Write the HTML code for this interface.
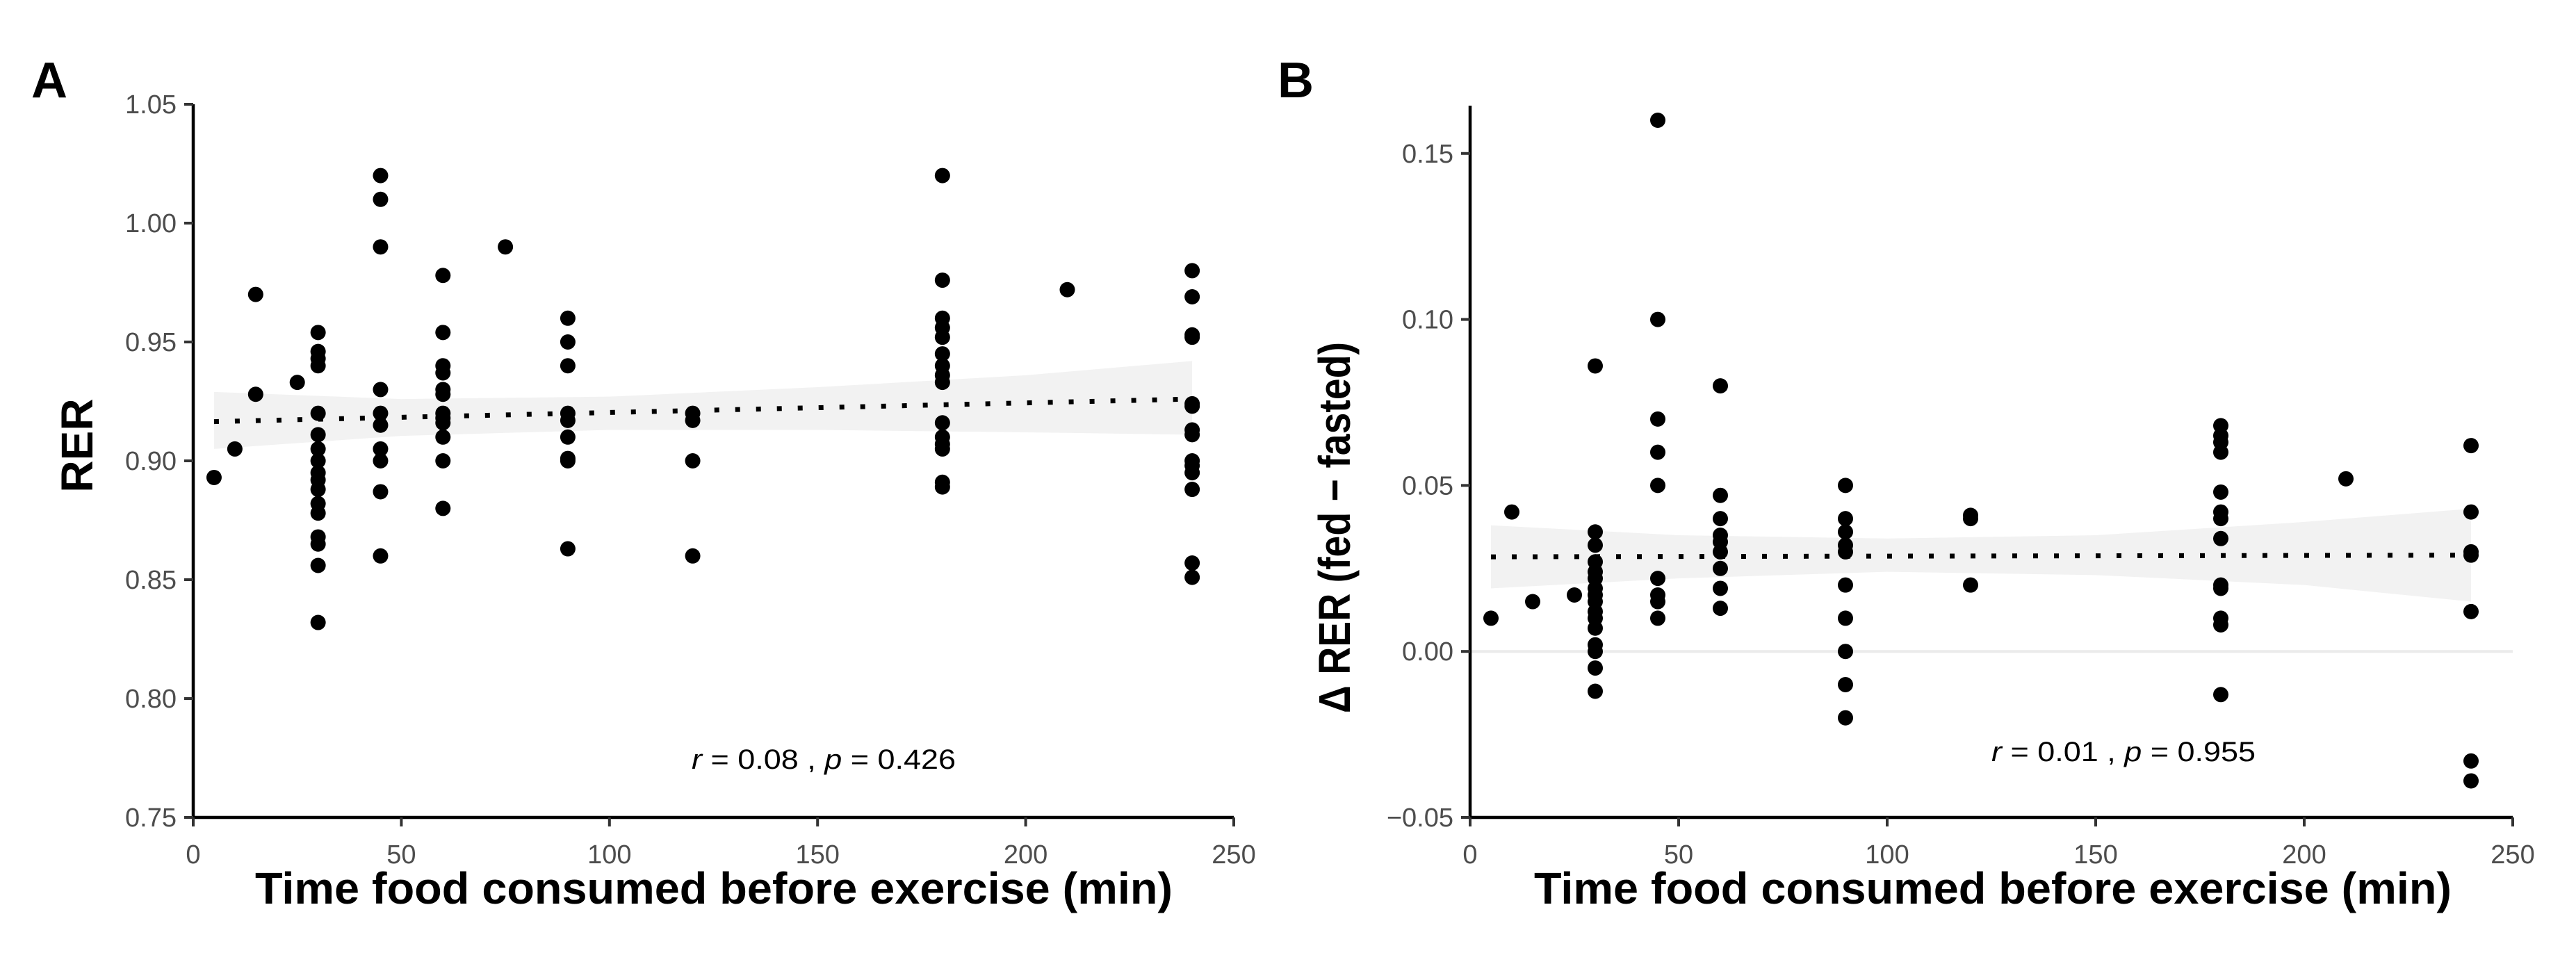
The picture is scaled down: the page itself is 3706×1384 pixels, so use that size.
<!DOCTYPE html>
<html><head><meta charset="utf-8"><style>
html,body{margin:0;padding:0;background:#fff;}
svg{display:block;}
text{font-family:"Liberation Sans",Arial,sans-serif;}
</style></head><body>
<svg id="chart" width="3706" height="1384" viewBox="0 0 3706 1384" xmlns="http://www.w3.org/2000/svg">
<rect width="3706" height="1384" fill="#fff"/>
<g id="pA"></g>
<g id="pB"></g>
</svg>
<script>
const xTicks = [0, 50, 100, 150, 200, 250];
const xTickLabels = ["0", "50", "100", "150", "200", "250"];
const aYTicks = [0.75, 0.80, 0.85, 0.90, 0.95, 1.00, 1.05];
const aYTickLabels = ["0.75", "0.80", "0.85", "0.90", "0.95", "1.00", "1.05"];
const bYTicks = [-0.05, 0.00, 0.05, 0.10, 0.15];
const bYTickLabels = ["\u22120.05", "0.00", "0.05", "0.10", "0.15"];

const aX = [5,10,15,15,25,
 30,30,30,30,30,30,30,30,30,30,30,30,30,30,30,30,30,
 45,45,45,45,45,45,45,45,45,45,
 60,60,60,60,60,60,60,60,60,60,60,60,
 75,
 90,90,90,90,90,90,90,90,90,
 120,120,120,120,
 180,180,180,180,180,180,180,180,180,180,180,180,180,180,180,
 210,
 240,240,240,240,240,240,240,240,240,240,240,240,240,240];
const aY = [0.893,0.905,0.970,0.928,0.933,
 0.954,0.946,0.943,0.940,0.920,0.911,0.905,0.900,0.895,0.892,0.888,0.882,0.878,0.868,0.865,0.856,0.832,
 1.020,1.010,0.990,0.930,0.920,0.915,0.905,0.900,0.887,0.860,
 0.978,0.954,0.940,0.937,0.930,0.928,0.920,0.918,0.916,0.910,0.900,0.880,
 0.990,
 0.960,0.950,0.940,0.920,0.917,0.910,0.901,0.900,0.863,
 0.920,0.917,0.900,0.860,
 1.020,0.976,0.960,0.956,0.952,0.945,0.940,0.936,0.933,0.916,0.910,0.907,0.905,0.891,0.889,
 0.972,
 0.980,0.969,0.953,0.952,0.924,0.923,0.913,0.911,0.900,0.898,0.895,0.888,0.857,0.851];
const aFitX = [5, 240];
const aFitY = [0.9165, 0.926];
const aBandX = [5, 50, 100, 150, 200, 240];
const aBandLo = [0.905, 0.9105, 0.913, 0.913, 0.912, 0.911];
const aBandHi = [0.929, 0.926, 0.927, 0.931, 0.936, 0.942];

const bX = [5,10,15,25,
 30,30,30,30,30,30,30,30,30,30,30,30,30,30,30,30,
 45,45,45,45,45,45,45,45,45,
 60,60,60,60,60,60,60,60,60,
 90,90,90,90,90,90,90,90,90,90,
 120,120,120,
 180,180,180,180,180,180,180,180,180,180,180,180,180,
 210,
 240,240,240,240,240,240,240];
const bY = [0.010,0.042,0.015,0.017,
 0.086,0.036,0.032,0.027,0.024,0.022,0.019,0.017,0.015,0.012,0.010,0.007,0.002,0.000,-0.005,-0.012,
 0.160,0.100,0.070,0.060,0.050,0.022,0.017,0.015,0.010,
 0.080,0.047,0.040,0.035,0.033,0.030,0.025,0.019,0.013,
 0.050,0.040,0.036,0.032,0.030,0.020,0.010,0.000,-0.010,-0.020,
 0.041,0.040,0.020,
 0.068,0.065,0.063,0.060,0.048,0.042,0.040,0.034,0.020,0.019,0.010,0.008,-0.013,
 0.052,
 0.062,0.042,0.030,0.029,0.012,-0.033,-0.039];
const bFitX = [5, 240];
const bFitY = [0.0285, 0.029];
const bBandX = [5, 50, 100, 150, 200, 240];
const bBandLo = [0.019, 0.022, 0.024, 0.023, 0.020, 0.015];
const bBandHi = [0.038, 0.035, 0.034, 0.035, 0.039, 0.043];

const NS = "http://www.w3.org/2000/svg";
function mk(parent, tag, attrs, txt) {
  const e = document.createElementNS(NS, tag);
  for (const k in attrs) e.setAttribute(k, attrs[k]);
  if (txt !== undefined) e.textContent = txt;
  parent.appendChild(e);
  return e;
}

function panel(g, cfg) {
  const sx = v => cfg.x0 + (v - 0) / 250 * (cfg.x1 - cfg.x0);
  const sy = v => cfg.yb + (v - cfg.ymin) / (cfg.ymax - cfg.ymin) * (cfg.yt - cfg.yb);

  if (cfg.zero) {
    const z = mk(g, "line", {x1: cfg.x0, x2: cfg.x1, y1: sy(0), y2: sy(0), stroke: "#ebebeb", "stroke-width": 4});
    
    
  }

  let d = "";
  cfg.bx.forEach((v, i) => { d += (i ? "L" : "M") + sx(v) + "," + sy(cfg.bhi[i]); });
  for (let i = cfg.bx.length - 1; i >= 0; i--) d += "L" + sx(cfg.bx[i]) + "," + sy(cfg.blo[i]);
  const band = mk(g, "path", {d: d + "Z", fill: "#f2f2f2"});
  
  

  const pts = mk(g, "g", {});
  
  
  cfg.px.forEach((v, i) => {
    const c = mk(pts, "circle", {cx: sx(v), cy: sy(cfg.py[i]), r: 11, fill: "#000"});
    
    
  });

  const fl = mk(g, "line", {x1: sx(cfg.fx[0]), y1: sy(cfg.fy[0]), x2: sx(cfg.fx[1]), y2: sy(cfg.fy[1]),
    stroke: "#000", "stroke-width": 7, "stroke-dasharray": "7 23"});
  
  

  const ax = mk(g, "path", {d: `M${cfg.x0},${cfg.yt}V${cfg.yb}H${cfg.x1}`, fill: "none", stroke: "#000", "stroke-width": 4.5});
  
  

  xTicks.forEach((v, i) => {
    const t = mk(g, "line", {x1: sx(v), x2: sx(v), y1: cfg.yb, y2: cfg.yb + 13, stroke: "#333", "stroke-width": 4});
    
    
    const l = mk(g, "text", {x: sx(v), y: cfg.yb + 66, "text-anchor": "middle", "font-size": 38, fill: "#4d4d4d"}, xTickLabels[i]);
    
    
  });
  cfg.yt_.forEach((v, i) => {
    const t = mk(g, "line", {x1: cfg.x0 - 13, x2: cfg.x0, y1: sy(v), y2: sy(v), stroke: "#333", "stroke-width": 4});
    
    
    const l = mk(g, "text", {x: cfg.x0 - 24, y: sy(v) + 13, "text-anchor": "end", "font-size": 38, fill: "#4d4d4d"}, cfg.ytl[i]);
    
    
  });

  const xt = mk(g, "text", {x: cfg.xtc, y: 1300, "text-anchor": "middle", "font-size": 64, "font-weight": "bold",
    textLength: 1320, lengthAdjust: "spacingAndGlyphs"}, "Time food consumed before exercise (min)");
  
  

  const yt = mk(g, "text", {x: 0, y: 0, "text-anchor": "middle", "font-size": 64, "font-weight": "bold",
    transform: `translate(${cfg.ytx},${cfg.yty}) rotate(-90)`});
  if (cfg.ytlen) { yt.setAttribute("textLength", cfg.ytlen); yt.setAttribute("lengthAdjust", "spacingAndGlyphs"); }
  yt.textContent = cfg.ytitle;
  
  

  const an = mk(g, "text", {x: cfg.anx, y: cfg.any, "font-size": 40, textLength: 380, lengthAdjust: "spacingAndGlyphs"});
  mk(an, "tspan", {"font-style": "italic"}, "r");
  mk(an, "tspan", {}, " = " + cfg.r + " , ");
  mk(an, "tspan", {"font-style": "italic"}, "p");
  mk(an, "tspan", {}, " = " + cfg.p);
  
  

  const pl = mk(g, "text", {x: cfg.lx, y: 140, "font-size": 72, "font-weight": "bold"}, cfg.letter);
  
  
}

panel(document.getElementById("pA"), {
  x0: 278, x1: 1775, yt: 150, yb: 1176, ymin: 0.75, ymax: 1.05,
  yt_: aYTicks, ytl: aYTickLabels, px: aX, py: aY, fx: aFitX, fy: aFitY,
  bx: aBandX, blo: aBandLo, bhi: aBandHi, zero: false,
  xtc: 1027, ytx: 133, yty: 641, ytitle: "RER", ytlen: 0,
  anx: 995, any: 1106, r: "0.08", p: "0.426", lx: 45, letter: "A"
});
panel(document.getElementById("pB"), {
  x0: 2115, x1: 3615, yt: 152, yb: 1176, ymin: -0.05, ymax: 0.1644,
  yt_: bYTicks, ytl: bYTickLabels, px: bX, py: bY, fx: bFitX, fy: bFitY,
  bx: bBandX, blo: bBandLo, bhi: bBandHi, zero: true,
  xtc: 2867, ytx: 1942, yty: 759, ytitle: "\u0394 RER (fed \u2212 fasted)", ytlen: 534,
  anx: 2865, any: 1095, r: "0.01", p: "0.955", lx: 1838, letter: "B"
});
</script>
</body></html>
